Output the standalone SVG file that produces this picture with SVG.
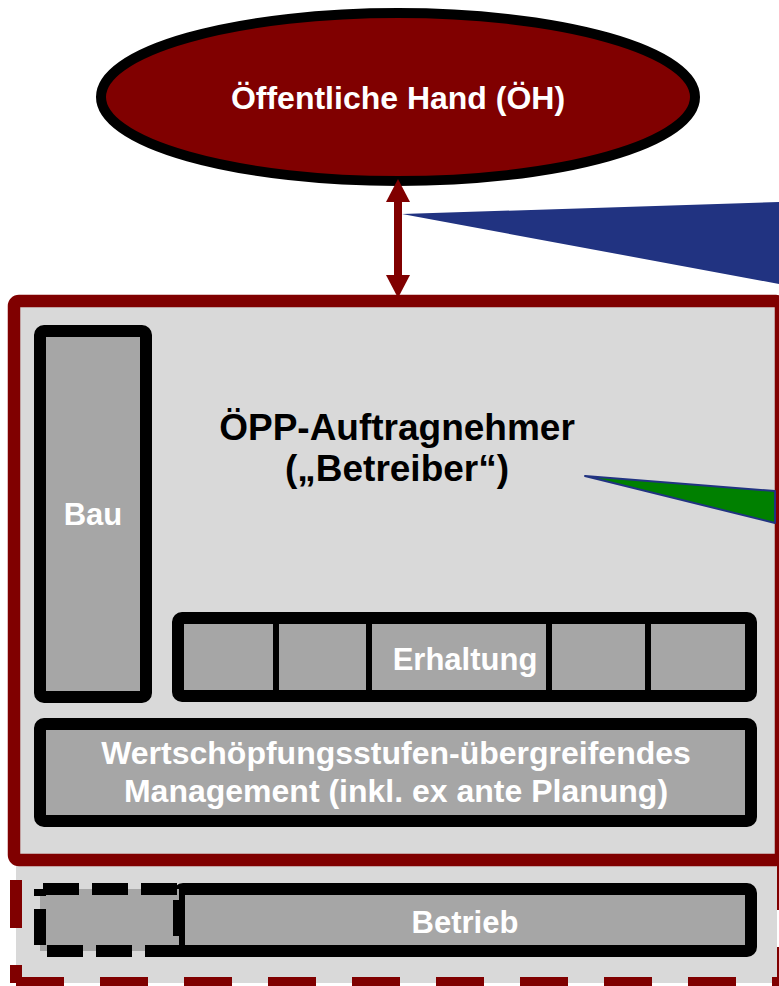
<svg xmlns="http://www.w3.org/2000/svg" width="779" height="986" viewBox="0 0 779 986">
<style>
  text { font-family: "Liberation Sans", Arial, sans-serif; font-weight: bold; text-anchor: middle; }
  .lbl { fill: #ffffff; font-size: 31px; }
  .box { fill: #a6a6a6; stroke: #000000; stroke-width: 12; }
  .div { stroke: #000000; stroke-width: 6; }
  .redd { stroke: #800000; stroke-width: 12; fill: none; stroke-dasharray: 48 36; }
</style>
<defs>
  <marker id="head" markerUnits="userSpaceOnUse" markerWidth="24" markerHeight="24" refX="12" refY="12" orient="auto-start-reverse" viewBox="0 0 24 24">
    <path d="M0,0 L23,12 L0,24 z" fill="#800000"/>
  </marker>
</defs>
<rect width="779" height="986" fill="#ffffff"/>

<g id="callouts">
  <polygon points="402,214 779,202 779,284" fill="#213381"/>
</g>

<g id="betrieb-bereich">
  <rect x="16" y="860" width="761" height="123" fill="#d9d9d9"/>
  <line class="redd" x1="16" y1="880" x2="16" y2="983" style="stroke-dasharray:48 37"/>
  <line class="redd" x1="16" y1="983" x2="779" y2="983"/>
  <line class="redd" x1="783" y1="863" x2="783" y2="986" style="stroke-dasharray:47 37"/>
</g>

<g id="oepp-auftragnehmer">
  <rect x="14" y="301" width="767" height="559" rx="5" fill="#d9d9d9" stroke="#800000" stroke-width="12.5"/>
  <text x="397" y="440" font-size="37" fill="#000000">ÖPP-Auftragnehmer</text>
  <text x="397" y="481" font-size="37" fill="#000000">(„Betreiber“)</text>
</g>

<g id="callout-green">
  <polygon points="585,476 775,491 775,523" fill="#008000" stroke="#213381" stroke-width="2" stroke-linejoin="round"/>
</g>

<g id="bau">
  <rect class="box" x="40" y="331" width="106" height="366" rx="4"/>
  <text class="lbl" x="93" y="525">Bau</text>
</g>

<g id="erhaltung">
  <rect class="box" x="178" y="618" width="573" height="78" rx="4"/>
  <line class="div" x1="276" y1="618" x2="276" y2="696"/>
  <line class="div" x1="369" y1="618" x2="369" y2="696"/>
  <line class="div" x1="549" y1="618" x2="549" y2="696"/>
  <line class="div" x1="648" y1="618" x2="648" y2="696"/>
  <text class="lbl" x="465" y="670">Erhaltung</text>
</g>

<g id="management">
  <rect class="box" x="40" y="724" width="711" height="97" rx="4"/>
  <text class="lbl" x="396" y="764" font-size="32" style="font-size:32px">Wertschöpfungsstufen-übergreifendes</text>
  <text class="lbl" x="396" y="802" style="font-size:32px">Management (inkl. ex ante Planung)</text>
</g>

<g id="betrieb">
  <rect class="box" x="179" y="889" width="572" height="62" rx="4"/>
  <text class="lbl" x="465" y="933">Betrieb</text>
</g>

<g id="betrieb-teil">
  <rect x="40" y="889" width="139" height="62" fill="#a6a6a6" stroke="#000000" stroke-width="12" stroke-dasharray="36 13" stroke-dashoffset="-3"/>
</g>

<g id="oeffentliche-hand">
  <ellipse cx="398" cy="97" rx="297" ry="84" fill="#800000" stroke="#000000" stroke-width="10"/>
  <text x="398" y="109" font-size="32" fill="#ffffff">Öffentliche Hand (ÖH)</text>
</g>

<g id="connectors">
  <line x1="398" y1="190" x2="398" y2="287" stroke="#800000" stroke-width="8" marker-start="url(#head)" marker-end="url(#head)"/>
</g>
</svg>
